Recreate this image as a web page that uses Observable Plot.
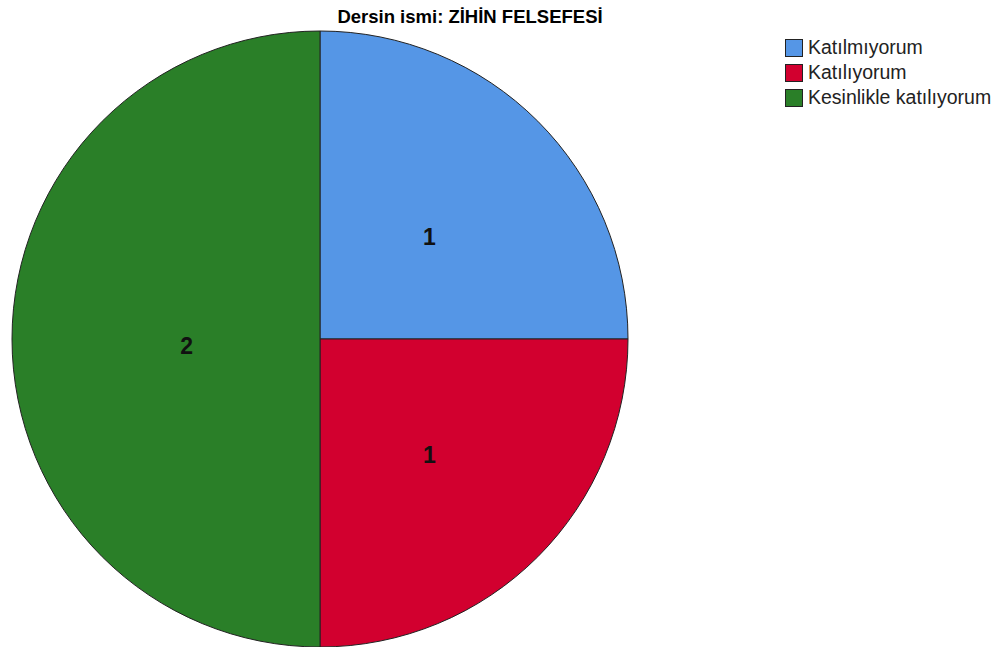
<!DOCTYPE html>
<html>
<head>
<meta charset="utf-8">
<script src="https://cdn.jsdelivr.net/npm/d3@7"></script>
<script src="https://cdn.jsdelivr.net/npm/@observablehq/plot@0.6"></script>
<style>
  html, body { margin: 0; padding: 0; background: #fff; }
  #wrap { position: relative; width: 1000px; height: 647px; overflow: hidden; font-family: "Liberation Sans", Arial, sans-serif; }
  #title { position: absolute; top: 7px; left: 0; width: 940px; text-align: center; font-weight: bold; font-size: 18.5px; line-height: 20px; color: #000; }
  #legend { position: absolute; left: 785px; top: 35px; font-size: 19.5px; color: #222; }
  .row { display: flex; align-items: center; height: 25px; }
  .sw { width: 16px; height: 16px; border: 1px solid #222; margin-right: 5px; box-sizing: content-box; }
  svg { position: absolute; left: 0; top: 0; }
</style>
</head>
<body>
<div id="wrap">
  <div id="title"></div>
  <div id="legend"></div>
</div>
<script>
const title = "Dersin ismi: ZİHİN FELSEFESİ";
const categories = ["Katılmıyorum", "Katılıyorum", "Kesinlikle katılıyorum"];
const counts = [1, 1, 2];
const colors = ["#5596E6", "#D2002F", "#2A7F28"];

const data = categories.map((c, i) => ({category: c, count: counts[i]}));
const pie = d3.pie().sort(null).value(d => d.count)(data);

const colorScale = Plot.scale({color: {type: "ordinal", domain: categories, range: colors}});

// label positions in unit-circle coordinates (pie radius = 1)
const labels = pie.map(p => {
  const a = (p.startAngle + p.endAngle) / 2;
  const span = p.endAngle - p.startAngle;
  const lr = span <= Math.PI / 2 + 1e-6 ? 0.5 : 0.435;
  return {x: lr * Math.sin(a), y: lr * Math.cos(a), text: String(p.data.count)};
});

const chart = Plot.plot({
  width: 1000,
  height: 647,
  margin: 0,
  x: {domain: [-1, 1], range: [12, 628], axis: null},
  y: {domain: [-1, 1], range: [647, 31], axis: null},
  marks: [
    (index, scales) => {
      const cx = scales.x(0), cy = scales.y(0);
      const r = (scales.x(1) - scales.x(-1)) / 2;
      const g = d3.create("svg:g").attr("transform", `translate(${cx},${cy})`);
      const arc = d3.arc().innerRadius(0).outerRadius(r);
      g.selectAll("path").data(pie).join("path")
        .attr("d", arc)
        .attr("fill", d => colorScale.apply(d.data.category))
        .attr("stroke", "#222")
        .attr("stroke-width", 1);
      return g.node();
    },
    Plot.text(labels, {x: "x", y: "y", text: "text", dy: 7, fontSize: 23, fontWeight: "bold", fill: "#111"})
  ],
  style: {fontFamily: "Liberation Sans, Arial, sans-serif", background: "transparent"}
});

const wrap = document.getElementById("wrap");
wrap.insertBefore(chart, wrap.firstChild);
document.getElementById("title").textContent = title;
const legend = document.getElementById("legend");
categories.forEach(c => {
  const row = document.createElement("div");
  row.className = "row";
  const sw = document.createElement("div");
  sw.className = "sw";
  sw.style.background = colorScale.apply(c);
  const t = document.createElement("span");
  t.textContent = c;
  row.appendChild(sw); row.appendChild(t);
  legend.appendChild(row);
});
</script>
</body>
</html>
